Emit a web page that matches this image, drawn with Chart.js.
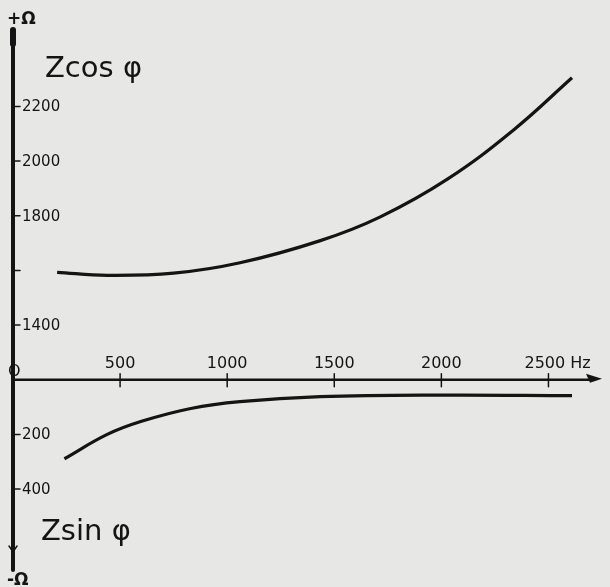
<!DOCTYPE html>
<html>
<head>
<meta charset="utf-8">
<script src="https://cdn.jsdelivr.net/npm/chart.js@4"></script>
<style>
  html, body { margin: 0; padding: 0; background: #e7e7e5; }
  #wrap { width: 610px; height: 587px; }
</style>
</head>
<body>
<div id="wrap"><canvas id="impedanceChart"></canvas></div>
<script>
// values
var freqCos = [206, 440, 750, 1060, 1435, 1715, 2030, 2340, 2610];
var zCos = [1593, 1582, 1590, 1628, 1709, 1796, 1935, 2116, 2305];
var freqSin = [240, 440, 600, 830, 1060, 1435, 2000, 2610];
var zSin = [289, 200, 152, 105, 80, 62, 56, 58];

var xTicks = [500, 1000, 1500, 2000, 2500];
var xTickLabels = ['500', '1000', '1500', '2000', '2500 Hz'];
var cosTicks = [1400, 1600, 1800, 2000, 2200];
var cosTickLabels = ['1400', '', '1800', '2000', '2200'];
var sinTicks = [200, 400];
var sinTickLabels = ['200', '400'];

function toPoints(xs, ys) {
    return xs.map(function (x, i) { return { x: x, y: ys[i] }; });
}

var ink = '#141414';

// draws the axes by hand, using the chart's own scales for positions
var handAxes = {
    id: 'handAxes',
    afterDatasetsDraw: function (chart) {
        var ctx = chart.ctx;
        var area = chart.chartArea;
        var xs = chart.scales.x;
        var yc = chart.scales.yCos;
        var ys = chart.scales.ySin;
        var x0 = xs.getPixelForValue(0);
        var y0 = ys.getPixelForValue(0);

        ctx.save();
        ctx.strokeStyle = ink;
        ctx.fillStyle = ink;
        ctx.lineCap = 'round';

        // vertical axis
        ctx.lineWidth = 4;
        ctx.beginPath();
        ctx.moveTo(x0, area.top + 2);
        ctx.lineTo(x0, area.bottom);
        ctx.stroke();
        ctx.lineWidth = 6;
        ctx.beginPath();
        ctx.moveTo(x0, area.top + 2);
        ctx.lineTo(x0, area.top + 16);
        ctx.stroke();
        // small arrow near the bottom
        ctx.lineWidth = 1.5;
        ctx.beginPath();
        ctx.moveTo(x0 - 4, area.bottom - 24);
        ctx.lineTo(x0, area.bottom - 18);
        ctx.lineTo(x0 + 4, area.bottom - 24);
        ctx.stroke();

        // horizontal axis with arrow
        ctx.lineWidth = 2.5;
        ctx.beginPath();
        ctx.moveTo(x0, y0);
        ctx.lineTo(area.right - 8, y0);
        ctx.stroke();
        ctx.beginPath();
        ctx.moveTo(area.right, y0 - 1);
        ctx.lineTo(area.right - 16, y0 - 6);
        ctx.lineTo(area.right - 12, y0 + 3);
        ctx.closePath();
        ctx.fill();

        // x ticks and labels
        ctx.lineWidth = 1.5;
        ctx.font = '16px "DejaVu Sans"';
        ctx.textAlign = 'center';
        ctx.textBaseline = 'alphabetic';
        xTicks.forEach(function (v, i) {
            var px = xs.getPixelForValue(v);
            ctx.beginPath();
            ctx.moveTo(px, y0 - 6);
            ctx.lineTo(px, y0 + 7);
            ctx.stroke();
            var label = xTickLabels[i];
            if (label.indexOf('Hz') > 0) {
                ctx.textAlign = 'left';
                ctx.fillText(label, px - 24, y0 - 12);
                ctx.textAlign = 'center';
            } else {
                ctx.fillText(label, px, y0 - 12);
            }
        });
        ctx.textAlign = 'left';
        ctx.fillText('O', x0 - 5, y0 - 4);

        // y ticks and labels
        ctx.font = '15px "DejaVu Sans"';
        ctx.textBaseline = 'middle';
        cosTicks.forEach(function (v, i) {
            var py = yc.getPixelForValue(v);
            ctx.beginPath();
            ctx.moveTo(x0, py);
            ctx.lineTo(x0 + 7, py);
            ctx.stroke();
            if (cosTickLabels[i]) ctx.fillText(cosTickLabels[i], x0 + 9, py + 1);
        });
        sinTicks.forEach(function (v, i) {
            var py = ys.getPixelForValue(v);
            ctx.beginPath();
            ctx.moveTo(x0, py);
            ctx.lineTo(x0 + 7, py);
            ctx.stroke();
            ctx.fillText(sinTickLabels[i], x0 + 9, py + 1);
        });

        // axis and curve names
        ctx.textBaseline = 'alphabetic';
        ctx.font = 'bold 17px "DejaVu Sans"';
        ctx.fillText('+Ω', x0 - 6, 24);
        ctx.fillText('-Ω', x0 - 6, 585);
        ctx.font = '29px "DejaVu Sans"';
        ctx.fillText('Zcos φ', 45, 77);
        ctx.fillText('Zsin φ', 41, 540);
        ctx.restore();
    }
};

var ctx = document.getElementById('impedanceChart').getContext('2d');
var impedanceChart = new Chart(ctx, {
    type: 'line',
    data: {
        datasets: [{
            label: 'Z cos φ',
            data: toPoints(freqCos, zCos),
            yAxisID: 'yCos',
            borderColor: ink,
            borderWidth: 3.2,
            pointRadius: 0,
            tension: 0.4,
            fill: false,
        }, {
            label: 'Z sin φ',
            data: toPoints(freqSin, zSin),
            yAxisID: 'ySin',
            borderColor: ink,
            borderWidth: 3.2,
            pointRadius: 0,
            tension: 0.4,
            fill: false,
        }],
    },
    options: {
        responsive: true,
        maintainAspectRatio: false,
        animation: false,
        layout: {
            padding: { top: 28, bottom: 17, left: 13, right: 8 },
        },
        scales: {
            x: { type: 'linear', min: 0, max: 2750, display: false },
            // both axes cover the whole height with the same ohms per pixel;
            // the zero line of the lower one meets 1200 of the upper one
            yCos: { type: 'linear', min: 504, max: 2487, display: false },
            ySin: { type: 'linear', reverse: true, min: -1287, max: 696, display: false },
        },
        plugins: {
            legend: { display: false },
            tooltip: { enabled: false },
        },
    },
    plugins: [handAxes],
});
</script>
</body>
</html>
